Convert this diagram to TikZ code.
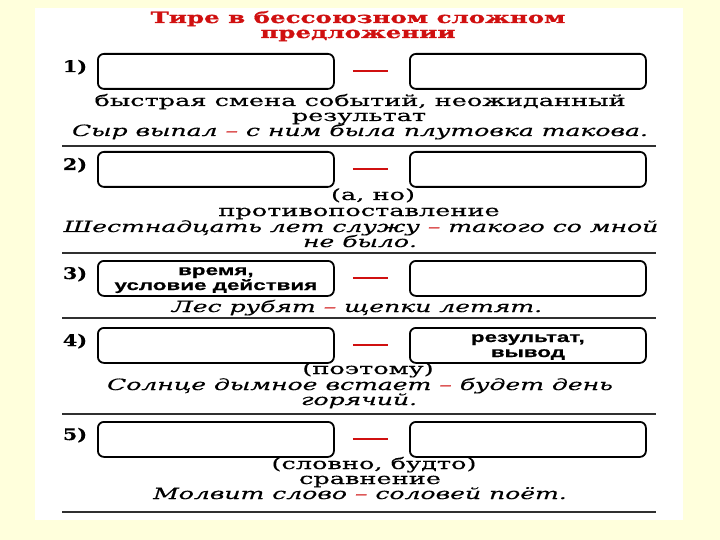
\documentclass[tikz,border=0pt]{standalone}
\usepackage{fontspec}
\usetikzlibrary{calc}
\newfontfamily\bodyf[FakeStretch=1.652,FakeBold=0.4]{DejaVu Serif}
\newfontfamily\itf[FakeStretch=1.616,FakeBold=0.4]{DejaVu Serif Italic}
\newfontfamily\titlef[FakeStretch=1.58,FakeBold=1.2]{DejaVu Serif Bold}
\newfontfamily\numf[FakeStretch=1.3,FakeBold=0.5]{DejaVu Serif Bold}
\newfontfamily\boxf[FakeStretch=1.546,FakeBold=0.5]{Liberation Sans Bold}
\definecolor{bgyel}{HTML}{FFFFDC}
\definecolor{tred}{HTML}{D01010}
\definecolor{rulec}{HTML}{303030}
\tikzset{
  blank/.style={draw=black, line width=1.8pt, rounded corners=6pt, minimum width=236pt, minimum height=35pt, anchor=north west, inner sep=0pt},
  boxlbl/.style={anchor=base, inner sep=0pt, text height=0.7em, text depth=0.15em, font=\boxf\fontsize{14.5}{15}\selectfont},
  tdash/.style={draw=tred, line width=2pt, shorten <=18pt, shorten >=21pt},
  num/.style={anchor=base, inner sep=0pt, font=\numf\fontsize{16}{16}\selectfont},
  txt/.style={anchor=base, inner sep=0pt, text height=0.7em, text depth=0.15em, font=\bodyf\fontsize{15.5}{16}\selectfont},
  ex/.style={anchor=base, inner sep=0pt, text height=0.7em, text depth=0.15em, font=\itf\fontsize{15.5}{16}\selectfont},
  ttl/.style={anchor=base, inner sep=0pt, text height=0.7em, text depth=0.15em, text=tred, font=\titlef\fontsize{15.5}{15.5}\selectfont},
  sep/.style={draw=rulec, line width=1.3pt}
}
\begin{document}
\begin{tikzpicture}[x=1pt,y=-1pt]
\fill[bgyel] (0,0) rectangle (720,540);
\fill[white] (35,8) rectangle (683,520);
\useasboundingbox (0,0) rectangle (720,540);
% title
\node[ttl] (t1) at (358,23) {Тире в бессоюзном сложном};
\node[ttl] (t2) at (358,38) {предложении};
% row 1
\node[num] (n1) at (75,72) {1)};
\node[blank] (a1) at (97,53) {};
\node[blank] (b1) at (409,53) {};
\draw[tdash] (a1.east) -- (b1.west);
\node[txt] (s1a) at (360,106) {быстрая смена событий, неожиданный};
\node[txt] (s1b) at (359,121) {результат};
\node[ex] (e1) at (360,136) {Сыр выпал {\color{tred}–} с ним была плутовка такова.};
\coordinate (l1a) at (62,146); \coordinate (l1b) at (656,146);
\draw[sep] (l1a) -- (l1b);
% row 2
\node[num] (n2) at (75,170) {2)};
\node[blank] (a2) at (97,151) {};
\node[blank] (b2) at (409,151) {};
\draw[tdash] (a2.east) -- (b2.west);
\node[txt] (s2a) at (373,200) {(а, но)};
\node[txt] (s2b) at (359,216) {противопоставление};
\node[ex] (e2a) at (361,232) {Шестнадцать лет служу {\color{tred}–} такого со мной};
\node[ex] (e2b) at (360,247) {не было.};
\coordinate (l2a) at (62,253); \coordinate (l2b) at (656,253);
\draw[sep] (l2a) -- (l2b);
% row 3
\node[num] (n3) at (75,279) {3)};
\node[blank] (a3) at (97,260) {};
\node[boxlbl] (a3t1) at ($(a3.north)+(0,15)$) {время,};
\node[boxlbl] (a3t2) at ($(a3.north)+(0,30)$) {условие действия};
\node[blank] (b3) at (409,260) {};
\draw[tdash] (a3.east) -- (b3.west);
\node[ex] (e3) at (357,312) {Лес рубят {\color{tred}–} щепки летят.};
\coordinate (l3a) at (62,318); \coordinate (l3b) at (656,318);
\draw[sep] (l3a) -- (l3b);
% row 4
\node[num] (n4) at (75,346) {4)};
\node[blank] (a4) at (97,327) {};
\node[blank] (b4) at (409,327) {};
\node[boxlbl] (b4t1) at ($(b4.north)+(0,15)$) {результат,};
\node[boxlbl] (b4t2) at ($(b4.north)+(0,30)$) {вывод};
\draw[tdash] (a4.east) -- (b4.west);
\node[txt] (s4a) at (368,374) {(поэтому)};
\node[ex] (e4a) at (360,390) {Солнце дымное встает {\color{tred}–} будет день};
\node[ex] (e4b) at (359,405) {горячий.};
\coordinate (l4a) at (62,414); \coordinate (l4b) at (656,414);
\draw[sep] (l4a) -- (l4b);
% row 5
\node[num] (n5) at (75,440) {5)};
\node[blank] (a5) at (97,421) {};
\node[blank] (b5) at (409,421) {};
\draw[tdash] (a5.east) -- (b5.west);
\node[txt] (s5a) at (374,469) {(словно, будто)};
\node[txt] (s5b) at (370,484) {сравнение};
\node[ex] (e5) at (360,499) {Молвит слово {\color{tred}–} соловей поёт.};
\coordinate (l5a) at (62,512); \coordinate (l5b) at (656,512);
\draw[sep] (l5a) -- (l5b);
\end{tikzpicture}
\end{document}
